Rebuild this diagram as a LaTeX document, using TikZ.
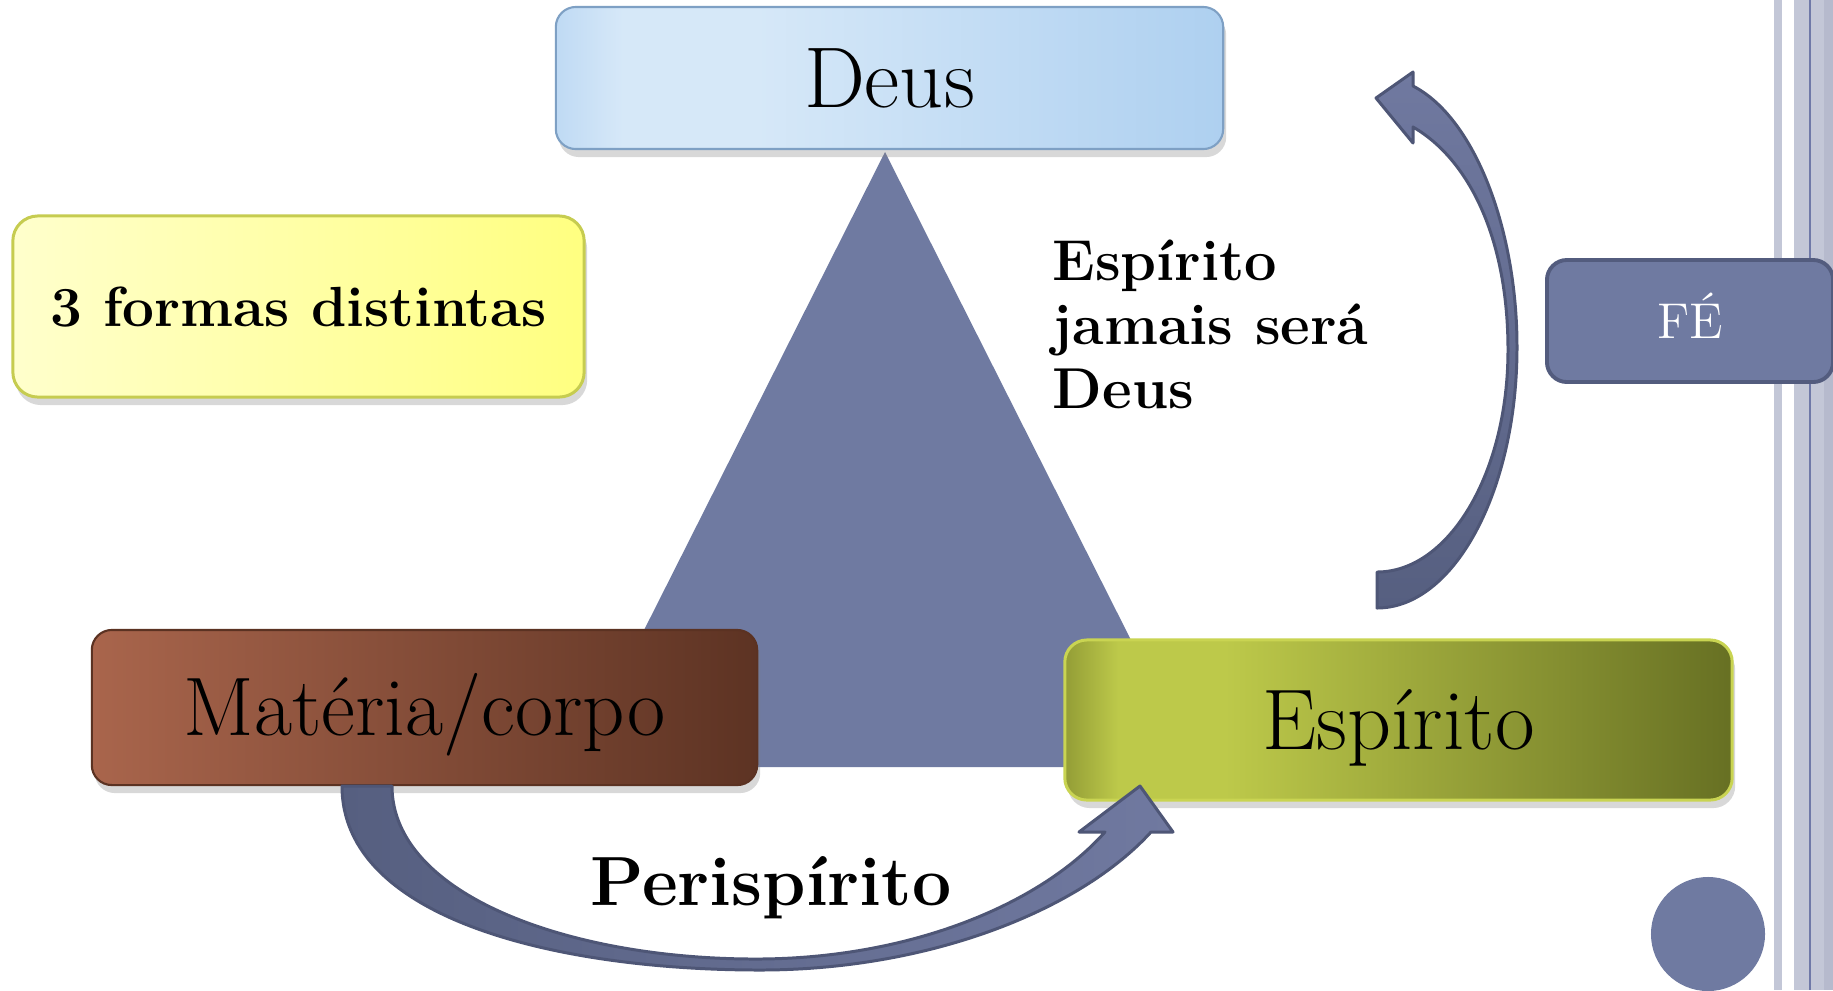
\documentclass[tikz,border=0pt]{standalone}
\usetikzlibrary{shadows}
\definecolor{deusA}{HTML}{BFDAF4}
\definecolor{deusB}{HTML}{D6E8F8}
\definecolor{deusC}{HTML}{AED0F0}
\definecolor{deusBorder}{HTML}{7EA0C4}
\definecolor{yelL}{HTML}{FFFFCC}
\definecolor{yelR}{HTML}{FFFF80}
\definecolor{yelBorder}{HTML}{C6CC50}
\definecolor{matL}{HTML}{A9654C}
\definecolor{matR}{HTML}{5D3323}
\definecolor{matBorder}{HTML}{5B3222}
\definecolor{espA}{HTML}{939D36}
\definecolor{espB}{HTML}{BDC94A}
\definecolor{espC}{HTML}{677023}
\definecolor{espBorder}{HTML}{C9D452}
\definecolor{tri}{HTML}{6F7AA1}
\definecolor{feBorder}{HTML}{535C7E}
\definecolor{arrL}{HTML}{7079A0}
\definecolor{arrD}{HTML}{565F80}
\definecolor{arrB}{HTML}{4E5676}
\definecolor{stripe}{HTML}{C3C7D7}
\definecolor{stripeline}{HTML}{6F79A8}
\definecolor{stripedark}{HTML}{B6BACD}
\pgfdeclarehorizontalshading{deusshade}{100bp}{color(0bp)=(deusA); color(25bp)=(deusA); color(30bp)=(deusB); color(40bp)=(deusB); color(75bp)=(deusC); color(100bp)=(deusC)}
\pgfdeclarehorizontalshading{espshade}{100bp}{color(0bp)=(espA); color(25bp)=(espA); color(29bp)=(espB); color(37bp)=(espB); color(75bp)=(espC); color(100bp)=(espC)}
\tikzset{
  box/.style={rectangle, rounded corners=0.2cm, inner sep=0pt, align=center,
    text depth=0pt, drop shadow={shadow xshift=0.03cm, shadow yshift=-0.08cm, opacity=0.3}},
  bigtext/.style={font=\fontsize{24.5}{28}\selectfont, text height=0.59cm},
  boldtext/.style={font=\bfseries\fontsize{16.4}{18.2}\selectfont},
  arrowbody/.style={draw=arrB, line width=0.85pt, line join=round}
}
\begin{document}
\begin{tikzpicture}[x=0.01cm,y=-0.01cm]
\useasboundingbox (0,0) rectangle (1833,990);
\clip (0,0) rectangle (1833,990);
\fill[white] (0,0) rectangle (1833,990);
% side stripes
\fill[stripe] (1774,0) rectangle (1782,990);
\fill[stripe] (1794,0) rectangle (1809,990);
\fill[stripeline] (1809,0) rectangle (1811,990);
\fill[stripe] (1811,0) rectangle (1824,990);
\fill[stripedark] (1824,0) rectangle (1833,990);
% triangle
\fill[tri] (885,152) -- (1195,767) -- (575,767) -- cycle;
% dot
\node[circle, fill=tri, minimum size=1.14cm, inner sep=0pt] (dot) at (1708,934) {};
% boxes
\node[box, bigtext, minimum width=6.67cm, minimum height=1.42cm, shading=deusshade,
  draw=deusBorder, line width=0.6pt] (deus) at (889.5,78) {Deus};
\node[box, font=\bfseries\fontsize{16.1}{18}\selectfont, text height=0.39cm, rounded corners=0.25cm, minimum width=5.71cm, minimum height=1.81cm,
  left color=yelL, right color=yelR, draw=yelBorder, line width=0.85pt] (formas) at (298.5,306.5) {3 formas distintas};
\node[box, font=\fontsize{23.6}{28}\selectfont, text height=0.565cm, minimum width=6.65cm, minimum height=1.55cm,
  left color=matL, right color=matR, draw=matBorder, line width=0.6pt] (mat) at (424.5,707.5) {Matéria/corpo};
\node[box, bigtext, rounded corners=0.22cm, minimum width=6.67cm, minimum height=1.60cm, shading=espshade,
  draw=espBorder, line width=0.85pt] (esp) at (1398.5,720) {Espírito};
\node[rectangle, rounded corners=0.2cm, inner sep=0pt, minimum width=2.86cm, minimum height=1.22cm,
  fill=tri, draw=feBorder, line width=1.1pt, text=white, font=\fontsize{14.3}{16}\selectfont,
  text height=0.34cm, text depth=0pt] (fe) at (1690,321) {FÉ};
% upper curved arrow
\path[arrowbody, top color=arrL, bottom color=arrD]
  (1376,98) -- (1413,72) -- (1413,86)
  .. controls (1475,118) and (1517,230) .. (1517,347)
  .. controls (1517,491) and (1454,608) .. (1377,608)
  -- (1377,572)
  .. controls (1449,572) and (1508,473) .. (1508,350)
  .. controls (1508,240) and (1470,160) .. (1413,127)
  -- (1413,143) -- cycle;
% lower curved arrow
\path[arrowbody, left color=arrD, right color=arrL]
  (342,786) .. controls (342,920) and (560,970) .. (760,970)
  .. controls (930,970) and (1080,910) .. (1151,832)
  -- (1173,832) -- (1140,786) -- (1079,832) -- (1105,832)
  .. controls (1040,905) and (910,958) .. (760,959)
  .. controls (570,960) and (392,895) .. (392,786) -- cycle;
% texts
\node[boldtext, align=left, anchor=north west, inner sep=0pt] (note) at (1052,239)
  {Espírito\\jamais será\\Deus};
\node[font=\bfseries\fontsize{19.8}{23}\selectfont, anchor=base, inner sep=0pt] (peri) at (771,905) {Perispírito};
\end{tikzpicture}
\end{document}
